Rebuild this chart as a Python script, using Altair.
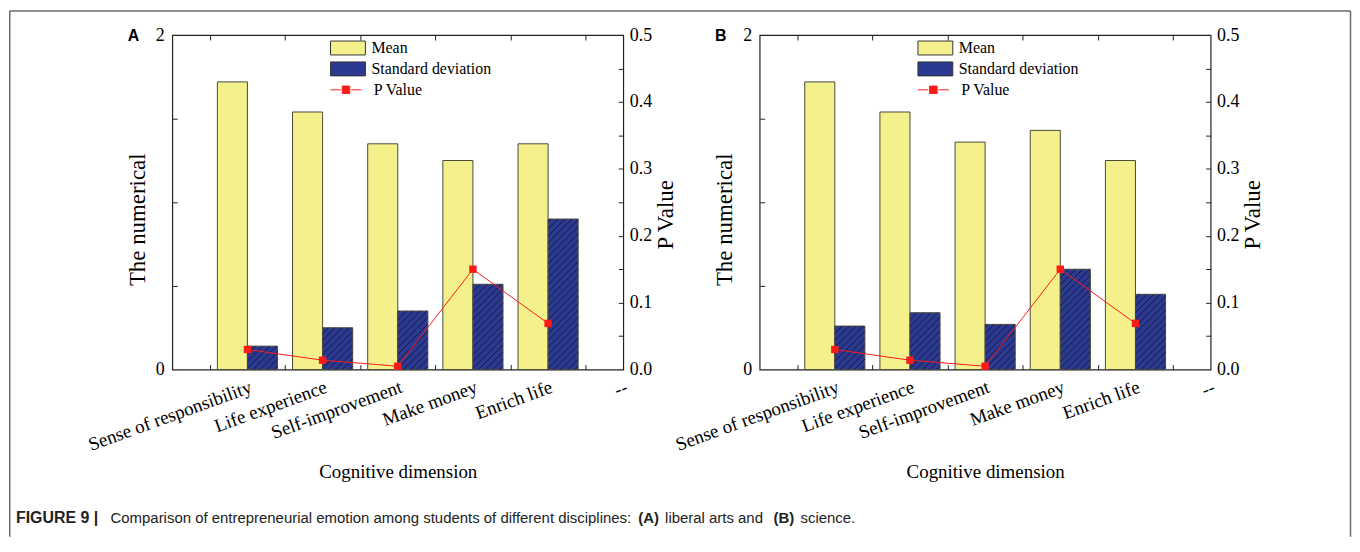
import altair as alt
import pandas as pd

# ---------------- data ----------------
categories = ["Sense of responsibility", "Life experience", "Self-improvement",
              "Make money", "Enrich life"]
extra_label = "--"
mean_a = [1.72, 1.54, 1.35, 1.25, 1.35]
std_a = [0.14, 0.25, 0.35, 0.51, 0.90]
p_a = [0.030, 0.014, 0.005, 0.150, 0.069]
mean_b = [1.72, 1.54, 1.36, 1.43, 1.25]
std_b = [0.26, 0.34, 0.27, 0.60, 0.45]
p_b = [0.030, 0.014, 0.005, 0.150, 0.069]
series_names = ["Mean", "Standard deviation"]
p_name = "P Value"
left_ticks = [0, 1, 2]
left_minor = [0.5, 1, 1.5]
right_ticks = [0.0, 0.1, 0.2, 0.3, 0.4, 0.5]
right_minor = [0.05, 0.1, 0.15, 0.2, 0.25, 0.3, 0.35, 0.4, 0.45]
x_label_pos = [1, 2, 3, 4, 5, 6]
x_tick_pos = [0.5, 1.5, 2.5, 3.5, 4.5, 5.5]

caption_parts = [
    ("FIGURE 9 |", True, 15),
    ("Comparison of entrepreneurial emotion among students of different disciplines:", False, 110),
    ("(A)", True, 640),
    ("liberal arts and", False, 667),
    ("(B)", True, 776),
    ("science.", False, 803),
]

# ---------------- style ----------------
W, H = 453, 336
X_MAX, Y_MAX, P_MAX = 6, 2, 0.5
BAR_W = 0.4
SERIF = "Liberation Serif"
SANS = "Liberation Sans"
YELLOW = "#f4f08c"
NAVY = "#2b3990"
RED = "#ff1a1a"
HATCH = "#10102c"
ORIGIN_X, ORIGIN_Y = 172, 33

all_labels = categories + [extra_label]
label_expr = " : ".join(
    f"datum.value == {i + 1} ? '{lab}'" for i, lab in enumerate(all_labels)) + " : ''"

xscale = alt.Scale(domain=[0, X_MAX], nice=False, zero=False)
yscale = alt.Scale(domain=[0, Y_MAX], nice=False)
pscale = alt.Scale(domain=[0, P_MAX], nice=False)

# symbol paths (unit = half of sqrt(symbolSize))
RECT_PATH = "M-2.5,-1L2.5,-1L2.5,1L-2.5,1Z"
PV_PATH = ("M-3.1,0L-1.0,0M1.0,0L3.1,0"
           "M-0.75,-0.75L0.75,-0.75L0.75,0.75L-0.75,0.75Z")


def tick_axis(orient, offset, values):
    return alt.Axis(orient=orient, offset=offset, values=values, labels=False,
                    domain=False, grid=False, ticks=True, tickSize=5,
                    tickColor="#222", tickWidth=1, title=None)


def panel(mean, std, pv, letter, with_frame):
    rows = []
    for i, cat in enumerate(categories):
        pos = i + 1
        rows.append(dict(series=series_names[0], value=mean[i],
                         x0=pos - BAR_W, x1=pos))
        rows.append(dict(series=series_names[1], value=std[i],
                         x0=pos, x1=pos + BAR_W))
    bar_df = pd.DataFrame(rows)

    # hatching lines for the standard deviation bars (derived from the bars)
    px_x = W / X_MAX
    px_y = H / Y_MAX
    step = 7.0
    hrows = []
    for i, v in enumerate(std):
        pos = i + 1
        bw = BAR_W * px_x
        bh = v * px_y
        k = -bw + step / 2
        while k < bh:
            u0 = max(0.0, -k)
            u1 = min(bw, bh - k)
            if u1 > u0:
                hrows.append(dict(hx=pos + u0 / px_x, hy=(u0 + k) / px_y,
                                  hx2=pos + u1 / px_x, hy2=(u1 + k) / px_y))
            k += step
    hatch_df = pd.DataFrame(hrows)

    p_df = pd.DataFrame(dict(pos=[i + 1 for i in range(len(categories))],
                             p=pv, series=[p_name] * len(pv)))

    bars = alt.Chart(bar_df).mark_bar(stroke="#4a4a3a", strokeWidth=1).encode(
        x=alt.X("x0:Q", scale=xscale, axis=alt.Axis(
            orient="bottom", values=x_label_pos, labelExpr=label_expr,
            ticks=False, domain=False, grid=False, labelAngle=-20,
            labelAlign="right", labelBaseline="top", labelPadding=8,
            labelOverlap=False, labelFlush=False, labelFont=SERIF,
            labelFontSize=19, labelColor="black",
            title="Cognitive dimension", titleFont=SERIF, titleFontSize=19,
            titleFontWeight="normal", titleColor="black", titleY=102,
            titleBaseline="middle")),
        x2="x1:Q",
        y=alt.Y("value:Q", scale=yscale, axis=alt.Axis(
            orient="left", values=left_ticks, format="d", ticks=False,
            domain=False, grid=False, labelPadding=8, labelFont=SERIF,
            labelFontSize=18, labelColor="black",
            title="The numerical", titleFont=SERIF, titleFontSize=23,
            titleFontWeight="normal", titleColor="black", titleAngle=270,
            titleX=-35, titleY=185, titleBaseline="middle")),
        y2=alt.datum(0),
        fill=alt.Fill("series:N", scale=alt.Scale(domain=series_names,
                                                  range=[YELLOW, NAVY]),
                      legend=alt.Legend(
                          orient="none", legendX=168.5, legendY=5, title=None,
                          symbolType=RECT_PATH, symbolSize=196,
                          symbolStrokeColor="#333", symbolStrokeWidth=1,
                          labelFont=SERIF, labelFontSize=16, labelColor="black",
                          labelOffset=15.5, padding=0, rowPadding=3)),
    )

    hatch = alt.Chart(hatch_df).mark_rule(color=HATCH, strokeWidth=0.8).encode(
        x=alt.X("hx:Q", scale=xscale, axis=tick_axis("top", -H, x_tick_pos)),
        x2="hx2:Q",
        y=alt.Y("hy:Q", scale=yscale, axis=tick_axis("right", -W, left_minor)),
        y2="hy2:Q",
    )

    line = alt.Chart(p_df).mark_line(color=RED, strokeWidth=1).encode(
        x=alt.X("pos:Q", scale=xscale, axis=tick_axis("bottom", -H, x_tick_pos)),
        y=alt.Y("p:Q", scale=pscale, axis=alt.Axis(
            orient="right", values=right_ticks, format=".1f", ticks=False,
            domain=False, grid=False, labelPadding=6, labelFont=SERIF,
            labelFontSize=18, labelColor="black",
            title="P Value", titleFont=SERIF, titleFontSize=23,
            titleFontWeight="normal", titleColor="black", titleAngle=270,
            titleX=42, titleY=180, titleBaseline="middle")),
    )

    points = alt.Chart(p_df).mark_point(shape="square", filled=True, size=55,
                                        opacity=1).encode(
        x=alt.X("pos:Q", scale=xscale, axis=None),
        y=alt.Y("p:Q", scale=pscale, axis=tick_axis("left", -W, right_minor)),
        fill=alt.Fill("series:N", scale=alt.Scale(domain=[p_name], range=[RED]),
                      legend=alt.Legend(
                          orient="none", legendX=166.5, legendY=47, title=None,
                          symbolType=PV_PATH, symbolSize=100,
                          symbolStrokeColor=RED, symbolStrokeWidth=1,
                          labelFont=SERIF, labelFontSize=16, labelColor="black",
                          labelOffset=20, padding=0)),
    )

    one = pd.DataFrame({"k": [0]})
    deco = [alt.Chart(one).mark_text(text=letter, font=SANS, fontSize=16,
                                     fontWeight="bold", align="center",
                                     baseline="middle", color="black").encode(
        x=alt.value(-39), y=alt.value(1))]

    if with_frame:
        bx0 = 8.75 - ORIGIN_X
        by0 = 8.75 - ORIGIN_Y
        bx1 = 1355.5 - ORIGIN_X
        by1 = 537 - ORIGIN_Y
        fc = "#6a6a6a"
        deco.append(alt.Chart(one).mark_rule(color=fc, strokeWidth=1.5).encode(
            x=alt.value(bx0), y=alt.value(by0), y2=alt.value(by1)))
        deco.append(alt.Chart(one).mark_rule(color=fc, strokeWidth=1.5).encode(
            x=alt.value(bx0), x2=alt.value(bx1), y=alt.value(by0)))
        deco.append(alt.Chart(one).mark_rule(color=fc, strokeWidth=1.5).encode(
            x=alt.value(bx1), y=alt.value(by0), y2=alt.value(by1)))
        for txt, bold, px in caption_parts:
            deco.append(alt.Chart(one).mark_text(
                text=txt, font=SANS, fontSize=16 if bold and txt.startswith("FIG") else 15,
                fontWeight="bold" if bold else "normal", align="left",
                baseline="middle", color="#222").encode(
                x=alt.value(px - ORIGIN_X), y=alt.value(518 - ORIGIN_Y)))

    layer = alt.layer(bars, hatch, line, points, *deco).resolve_scale(
        x="independent", y="independent", fill="independent"
    ).resolve_axis(x="independent", y="independent").resolve_legend(
        fill="independent"
    ).properties(width=W, height=H)
    return layer


pa = panel(mean_a, std_a, p_a, "A", True)
pb = panel(mean_b, std_b, p_b, "B", False)

chart = alt.hconcat(pa, pb, spacing=137, bounds="flush").resolve_scale(
    fill="independent"
).resolve_legend(fill="independent").properties(
    padding=0, background="white"
).configure_view(stroke="#222", strokeWidth=1.2)

chart.save("out.html", embed_options={"renderer": "svg", "actions": False})
